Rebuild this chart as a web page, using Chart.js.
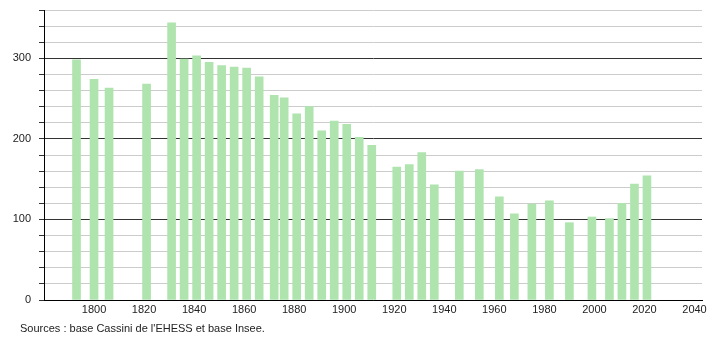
<!doctype html>
<html>
<head>
<title>Population</title>
<script src="https://cdn.jsdelivr.net/npm/chart.js@4/dist/chart.umd.min.js"></script>
<style>
body { margin: 0; background: #fff; }
#container { position: relative; width: 710px; height: 340px; }
#source {
	position: absolute; left: 20px; top: 322px;
	font: 11px "Liberation Sans", Arial, sans-serif; color: #222;
}
</style>
</head>
<body>
	<div id="container">
		<canvas id="canvas" width="710" height="340"></canvas>
		<div id="source">Sources : base Cassini de l'EHESS et base Insee.</div>
	</div>

	<script>
	// census years and population
	var years = [1793, 1800, 1806, 1821, 1831, 1836, 1841, 1846, 1851, 1856, 1861, 1866,
		1872, 1876, 1881, 1886, 1891, 1896, 1901, 1906, 1911, 1921, 1926, 1931, 1936,
		1946, 1954, 1962, 1968, 1975, 1982, 1990, 1999, 2006, 2011, 2016, 2021];
	var population = [298, 274, 263, 268, 344, 299, 303, 295, 291, 289, 288, 277,
		254, 251, 231, 240, 210, 222, 218, 202, 192, 165, 168, 183, 143,
		160, 162, 128, 107, 119, 123, 96, 103, 101, 120, 144, 154];
	var yLabels = [0, 100, 200, 300];
	var xLabels = [1800, 1820, 1840, 1860, 1880, 1900, 1920, 1940, 1960, 1980, 2000, 2020, 2040];

	var points = [];
	for (var i = 0; i < years.length; i++) {
		points.push({x: years[i], y: population[i]});
	}

	Chart.defaults.font.family = '"Liberation Sans", Arial, sans-serif';
	Chart.defaults.font.size = 11;
	Chart.defaults.color = '#222';

	var ctx = document.getElementById('canvas').getContext('2d');
	window.myBar = new Chart(ctx, {
		type: 'bar',
		data: {
			datasets: [{
				label: 'Population',
				data: points,
				backgroundColor: '#afe4af',
				borderWidth: 0,
				barThickness: 8
			}]
		},
		options: {
			responsive: false,
			animation: false,
			layout: { padding: { top: 10, right: 8, bottom: 22, left: 0 } },
			plugins: {
				legend: { display: false },
				tooltip: { enabled: false }
			},
			scales: {
				x: {
					type: 'linear',
					offset: false,
					min: 1780,
					max: 2043,
					grid: { display: false, drawTicks: false, tickLength: 0 },
					border: { display: true, color: '#000', width: 1 },
					afterFit: function(scale) { scale.height = 18; },
					ticks: {
						stepSize: 20,
						autoSkip: false,
						includeBounds: false,
						padding: 3,
						maxRotation: 0,
						callback: function(v) { return xLabels.indexOf(v) >= 0 ? String(v) : ''; }
					}
				},
				y: {
					min: 0,
					max: 360,
					afterFit: function(scale) {
						scale.width = 44;
						scale.paddingTop = 0;
					},
					border: { display: true, color: '#000', width: 1 },
					grid: {
						tickLength: 5,
						color: function(c) { return c.tick && c.tick.value % 100 === 0 ? '#333' : '#cccccc'; },
						tickColor: '#333'
					},
					ticks: {
						stepSize: 20,
						autoSkip: false,
						padding: 8,
						callback: function(v) { return yLabels.indexOf(v) >= 0 ? String(v) : ''; }
					}
				}
			}
		}
	});
	</script>
</body>
</html>
